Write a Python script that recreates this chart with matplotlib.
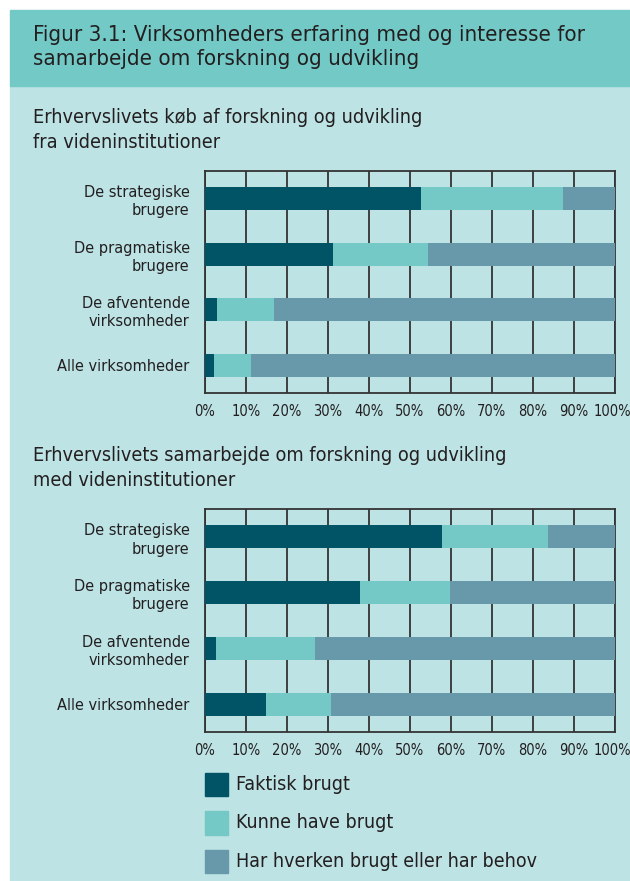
import matplotlib
matplotlib.use("Agg")
import matplotlib.pyplot as plt
from matplotlib.patches import Rectangle
from matplotlib.ticker import PercentFormatter
from matplotlib.transforms import ScaledTranslation

plt.rcParams['font.family'] = ['DejaVu Sans']
plt.rcParams['font.stretch'] = 'condensed'

# --- data (in %) ---
categories = ["De strategiske\nbrugere", "De pragmatiske\nbrugere",
              "De afventende\nvirksomheder", "Alle virksomheder"]
series_names = ["Faktisk brugt", "Kunne have brugt",
                "Har hverken brugt eller har behov"]

koeb_faktisk = [52.8, 31.1, 2.9, 2.2]
koeb_kunne = [34.4, 23.4, 14.0, 8.9]
koeb_hverken = [12.8, 45.5, 83.1, 88.9]

samarb_faktisk = [57.8, 37.8, 2.8, 14.9]
samarb_kunne = [25.9, 22.0, 24.0, 15.8]
samarb_hverken = [16.3, 40.2, 73.2, 69.3]

title = "Figur 3.1: Virksomheders erfaring med og interesse for\nsamarbejde om forskning og udvikling"
sub1 = "Erhvervslivets køb af forskning og udvikling\nfra videninstitutioner"
sub2 = "Erhvervslivets samarbejde om forskning og udvikling\nmed videninstitutioner"
ticks = list(range(0, 101, 10))

colors = ["#005466", "#74c9c6", "#6799aa"]
bg = "#bde3e5"
header = "#72c9c6"
ink = "#231f20"

W, H = 630, 881
fig = plt.figure(figsize=(W / 100, H / 100), dpi=100, facecolor="white")


def fx(px):
    return px / W


def fy(py):
    return 1 - py / H


# background panels
fig.patches.append(Rectangle((fx(10), fy(881)), 1, fy(86) - fy(881),
                             transform=fig.transFigure, color=bg, zorder=-10))
fig.patches.append(Rectangle((fx(10), fy(86)), 1, fy(10) - fy(86),
                             transform=fig.transFigure, color=header, zorder=-10))

fig.text(fx(33), fy(47), title, fontsize=16, color=ink, va="center",
         linespacing=1.3)


def draw_panel(top, bottom, subtitle, sub_y, parts):
    ax = fig.add_axes([fx(205), fy(bottom), fx(410), fy(top) - fy(bottom)])
    ax.set_facecolor(bg)
    y = list(range(len(categories)))
    left = [0] * len(categories)
    for vals, col in zip(parts, colors):
        ax.barh(y, vals, left=left, height=0.41, color=col, zorder=3)
        left = [a + b for a, b in zip(left, vals)]
    ax.set_xlim(0, 100)
    ax.set_ylim(len(categories) - 0.5, -0.5)
    ax.set_xticks(ticks)
    ax.xaxis.set_major_formatter(PercentFormatter(decimals=0))
    ax.set_yticks(y)
    ax.set_yticklabels(categories, ha="right", linespacing=1.27, fontsize=11.7)
    ax.tick_params(length=0, labelcolor=ink)
    ax.tick_params(axis="x", pad=8, labelsize=10.5)
    ax.tick_params(axis="y", pad=11)
    # the 100% label sits at the panel edge; nudge it in a little
    last = ax.get_xticklabels()[-1]
    last.set_transform(last.get_transform() + ScaledTranslation(-3 / 100, 0, fig.dpi_scale_trans))
    ax.grid(axis="x", color="#333333", linewidth=1.3, zorder=1)
    ax.set_axisbelow(True)
    for s in ax.spines.values():
        s.set_color("#333333")
        s.set_linewidth(1.3)
    fig.text(fx(33), fy(sub_y), subtitle, fontsize=14.2, color=ink,
             va="center", linespacing=1.43)
    return ax


draw_panel(171, 393, sub1, 130, [koeb_faktisk, koeb_kunne, koeb_hverken])
draw_panel(509, 732, sub2, 468, [samarb_faktisk, samarb_kunne, samarb_hverken])

# legend
for i, (name, col) in enumerate(zip(series_names, colors)):
    top = 773 + i * 38.5
    fig.patches.append(Rectangle((fx(205), fy(top + 23)), fx(23), fy(top) - fy(top + 23),
                                 transform=fig.transFigure, color=col, zorder=2))
    fig.text(fx(236), fy(top + 11.5), name, fontsize=14, color=ink, va="center")

fig.savefig("out.png", dpi=100, facecolor="white")
